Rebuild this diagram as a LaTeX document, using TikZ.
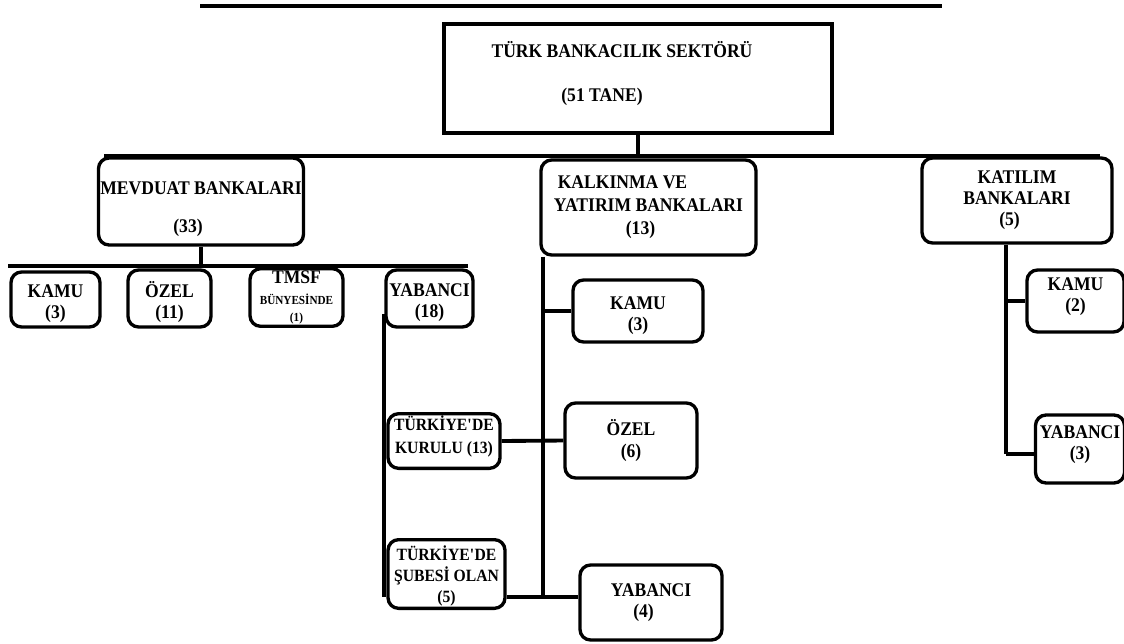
\documentclass[tikz,border=0pt]{standalone}
\usepackage{fontspec}
\setmainfont{Liberation Serif}[FakeStretch=0.91]
\usetikzlibrary{positioning, calc}

\begin{document}
\begin{tikzpicture}[x=0.02cm, y=-0.02cm,
        box/.style={draw, line width=1.9pt, rounded corners=6pt, align=center,
                    font=\bfseries\fontsize{11}{12}\selectfont, inner sep=1pt},
        rootbox/.style={draw, line width=1.9pt, align=center, font=\bfseries\fontsize{11}{12}\selectfont},
        small/.style={font=\bfseries\fontsize{9.8}{13}\selectfont},
        conn/.style={line width=2.2pt}
    ]
        \useasboundingbox (0,0) rectangle (1124,643);

        % level 0
        \node[rootbox, minimum width=7.76cm, minimum height=2.18cm] (root) at (638,78.5)
            {TÜRK BANKACILIK SEKTÖRÜ\hspace*{0.64cm}\\[13pt](51 TANE)\rule[-7.7pt]{0pt}{0pt}\hspace*{1.44cm}};

        % level 1
        \node[box, minimum width=4.04cm, minimum height=1.74cm] (mevduat) at (201,201.5)
            {\rule{0pt}{16pt}MEVDUAT BANKALARI\\[10pt](33)\hspace*{0.52cm}};
        \node[box, minimum width=4.30cm, minimum height=1.90cm] (kalkinma) at (648.5,207.5)
            {KALKINMA VE\hspace*{1.04cm}\\[1pt]YATIRIM BANKALARI\\[1pt](13)\hspace*{0.32cm}};
        \node[box, minimum width=3.80cm, minimum height=1.70cm] (katilim) at (1017,200.5)
            {KATILIM\\BANKALARI\\(5)\hspace*{0.3cm}};

        % mevduat children
        \node[box, minimum width=1.78cm, minimum height=1.10cm] (mkamu) at (55.5,299.5)
            {\rule{0pt}{11.6pt}KAMU\\(3)};
        \node[box, minimum width=1.66cm, minimum height=1.14cm] (mozel) at (169.5,298.5)
            {\rule{0pt}{13pt}ÖZEL\\(11)};
        \node[box, minimum width=1.86cm, minimum height=1.10cm] (mtmsf) at (296.5,297.5)
            {TMSF\\[0pt]{\scriptsize BÜNYESİNDE}\\[-2pt]{\scriptsize (1)}};
        \node[box, minimum width=1.74cm, minimum height=1.14cm] (myabanci) at (429.5,298.5)
            {\rule{0pt}{11.6pt}YABANCI\\(18)};
        \node[box, small, minimum width=2.24cm, minimum height=1.08cm] (kurulu) at (444,441)
            {TÜRKİYE\textquotesingle DE\\KURULU (13)\rule[-7.7pt]{0pt}{0pt}};
        \node[box, font=\bfseries\fontsize{9.8}{12}\selectfont, minimum width=2.34cm, minimum height=1.16cm]
            (sube) at (446.5,574) {\rule{0pt}{11pt}TÜRKİYE\textquotesingle DE\\ŞUBESİ OLAN\\(5)};

        % kalkinma children
        \node[box, minimum width=2.60cm, minimum height=1.24cm] (kkamu) at (638,311)
            {\rule{0pt}{12.6pt}KAMU\\(3)};
        \node[box, minimum width=2.64cm, minimum height=1.50cm] (kozel) at (631,440.5) {ÖZEL\\(6)};
        \node[box, minimum width=2.84cm, minimum height=1.50cm] (kyabanci) at (651,602.5)
            {YABANCI\\(4)\hspace*{0.3cm}};

        % katilim children
        \node[box, minimum width=1.94cm, minimum height=1.24cm] (tkamu) at (1075.5,301)
            {KAMU\\(2)\rule[-7.7pt]{0pt}{0pt}};
        \node[box, minimum width=1.78cm, minimum height=1.36cm] (tyabanci) at (1080,449)
            {YABANCI\\(3)\rule[-7.7pt]{0pt}{0pt}};

        % lines
        \coordinate (topL) at (200,6);
        \coordinate (topR) at (942,6);
        \coordinate (busL) at (104,156);
        \coordinate (busR) at (1100,156);
        \coordinate (mbusL) at (8,266);
        \coordinate (mbusR) at (468,266);
        \coordinate (mv) at ([yshift=-0.3cm]myabanci.west);
        \coordinate (kv) at ([xshift=0.08cm]kalkinma.south west);
        \coordinate (tv) at ([xshift=-0.22cm]katilim.south);
        \coordinate (subeout) at ([yshift=-0.46cm]sube.east);

        \draw[conn] (topL) -- (topR);
        \draw[conn] (root.south) -- (root.south |- busL);
        \draw[conn] (busL) -- (busR);
        \draw[conn] (mevduat.south) -- (mevduat.south |- mbusL);
        \draw[conn] (mbusL) -- (mbusR);
        \draw[conn] (mv) -- (mv |- subeout);
        \draw[conn] (kv) -- (kv |- subeout);
        \draw[conn] (tv) -- ([yshift=-0.1cm]tv |- tyabanci.west);
        \draw[conn] (kkamu.west -| kv) -- (kkamu.west);
        \draw[conn] (kurulu.east) -- (kozel.west);
        \draw[conn] (subeout) -- (subeout -| kyabanci.west);
        \draw[conn] (tkamu.west -| tv) -- (tkamu.west);
        \draw[conn] ([yshift=-0.1cm]tyabanci.west -| tv) -- ([yshift=-0.1cm]tyabanci.west);
    \end{tikzpicture}
\end{document}
